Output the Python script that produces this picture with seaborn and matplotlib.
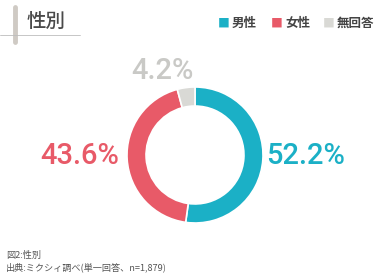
import matplotlib
matplotlib.use("Agg")
import matplotlib.pyplot as plt
import seaborn as sns

# データ
categories = ["男性", "女性", "無回答"]
shares = [52.2, 43.6, 4.2]
colors = ["#1bb0c6", "#e85a68", "#d9d9d5"]
label_colors = ["#1bb0c6", "#e85a68", "#c9c9c6"]
title = "性別"
notes = ["図2:性別", "出典:ミクシィ調べ(単一回答、n=1,879)"]

sns.set_theme(style="white")
plt.rcParams["font.family"] = ["Noto Sans CJK JP", "DejaVu Sans"]

fig = plt.figure(figsize=(3.9, 2.78), dpi=100)
ax = fig.add_axes([127 / 390, 55 / 278, 136 / 390, 136 / 278])

ax.pie(shares, colors=colors, startangle=90, counterclock=False,
       wedgeprops=dict(width=0.28, edgecolor="white", linewidth=1.2))
ax.set_xlim(-1, 1)
ax.set_ylim(-1, 1)
ax.set_aspect("equal")

# パーセンテージ
label_pos = [(1.62, -0.02), (-1.70, -0.02), (-0.48, 1.23)]
for val, (x, y), c in zip(shares, label_pos, label_colors):
    ax.text(x, y, f"{val}%", color=c, fontsize=21, fontweight="medium",
            family=["Roboto", "DejaVu Sans"],
            ha="center", va="center", clip_on=False)

# タイトル
fig.text(27 / 390, 1 - 21 / 278, title, fontsize=14, color="#4a4a4a",
         fontweight="medium", ha="left", va="center")
fig.add_artist(plt.Line2D([15 / 390, 15 / 390], [1 - 7 / 278, 1 - 42 / 278],
                          color="#cfcac4", lw=3.5))
fig.add_artist(plt.Line2D([0, 80 / 390], [1 - 35 / 278, 1 - 35 / 278],
                          color="#bdbdbd", lw=0.6))

# 凡例
leg_x = [218, 271, 323]
for name, c, x in zip(categories, colors, leg_x):
    fig.text(x / 390, 1 - 23 / 278, "■", color=c, fontsize=8.5,
             ha="left", va="center")
    fig.text((x + 14) / 390, 1 - 23 / 278, name, color="#444444",
             fontsize=9, fontweight="bold", ha="left", va="center")

# 注記
fig.text(6 / 390, 1 - 255 / 278, notes[0], fontsize=6.6, color="#555555",
         ha="left", va="center")
fig.text(6 / 390, 1 - 267 / 278, notes[1], fontsize=6.6, color="#555555",
         ha="left", va="center")

fig.savefig("out.png", dpi=100, facecolor="white")
